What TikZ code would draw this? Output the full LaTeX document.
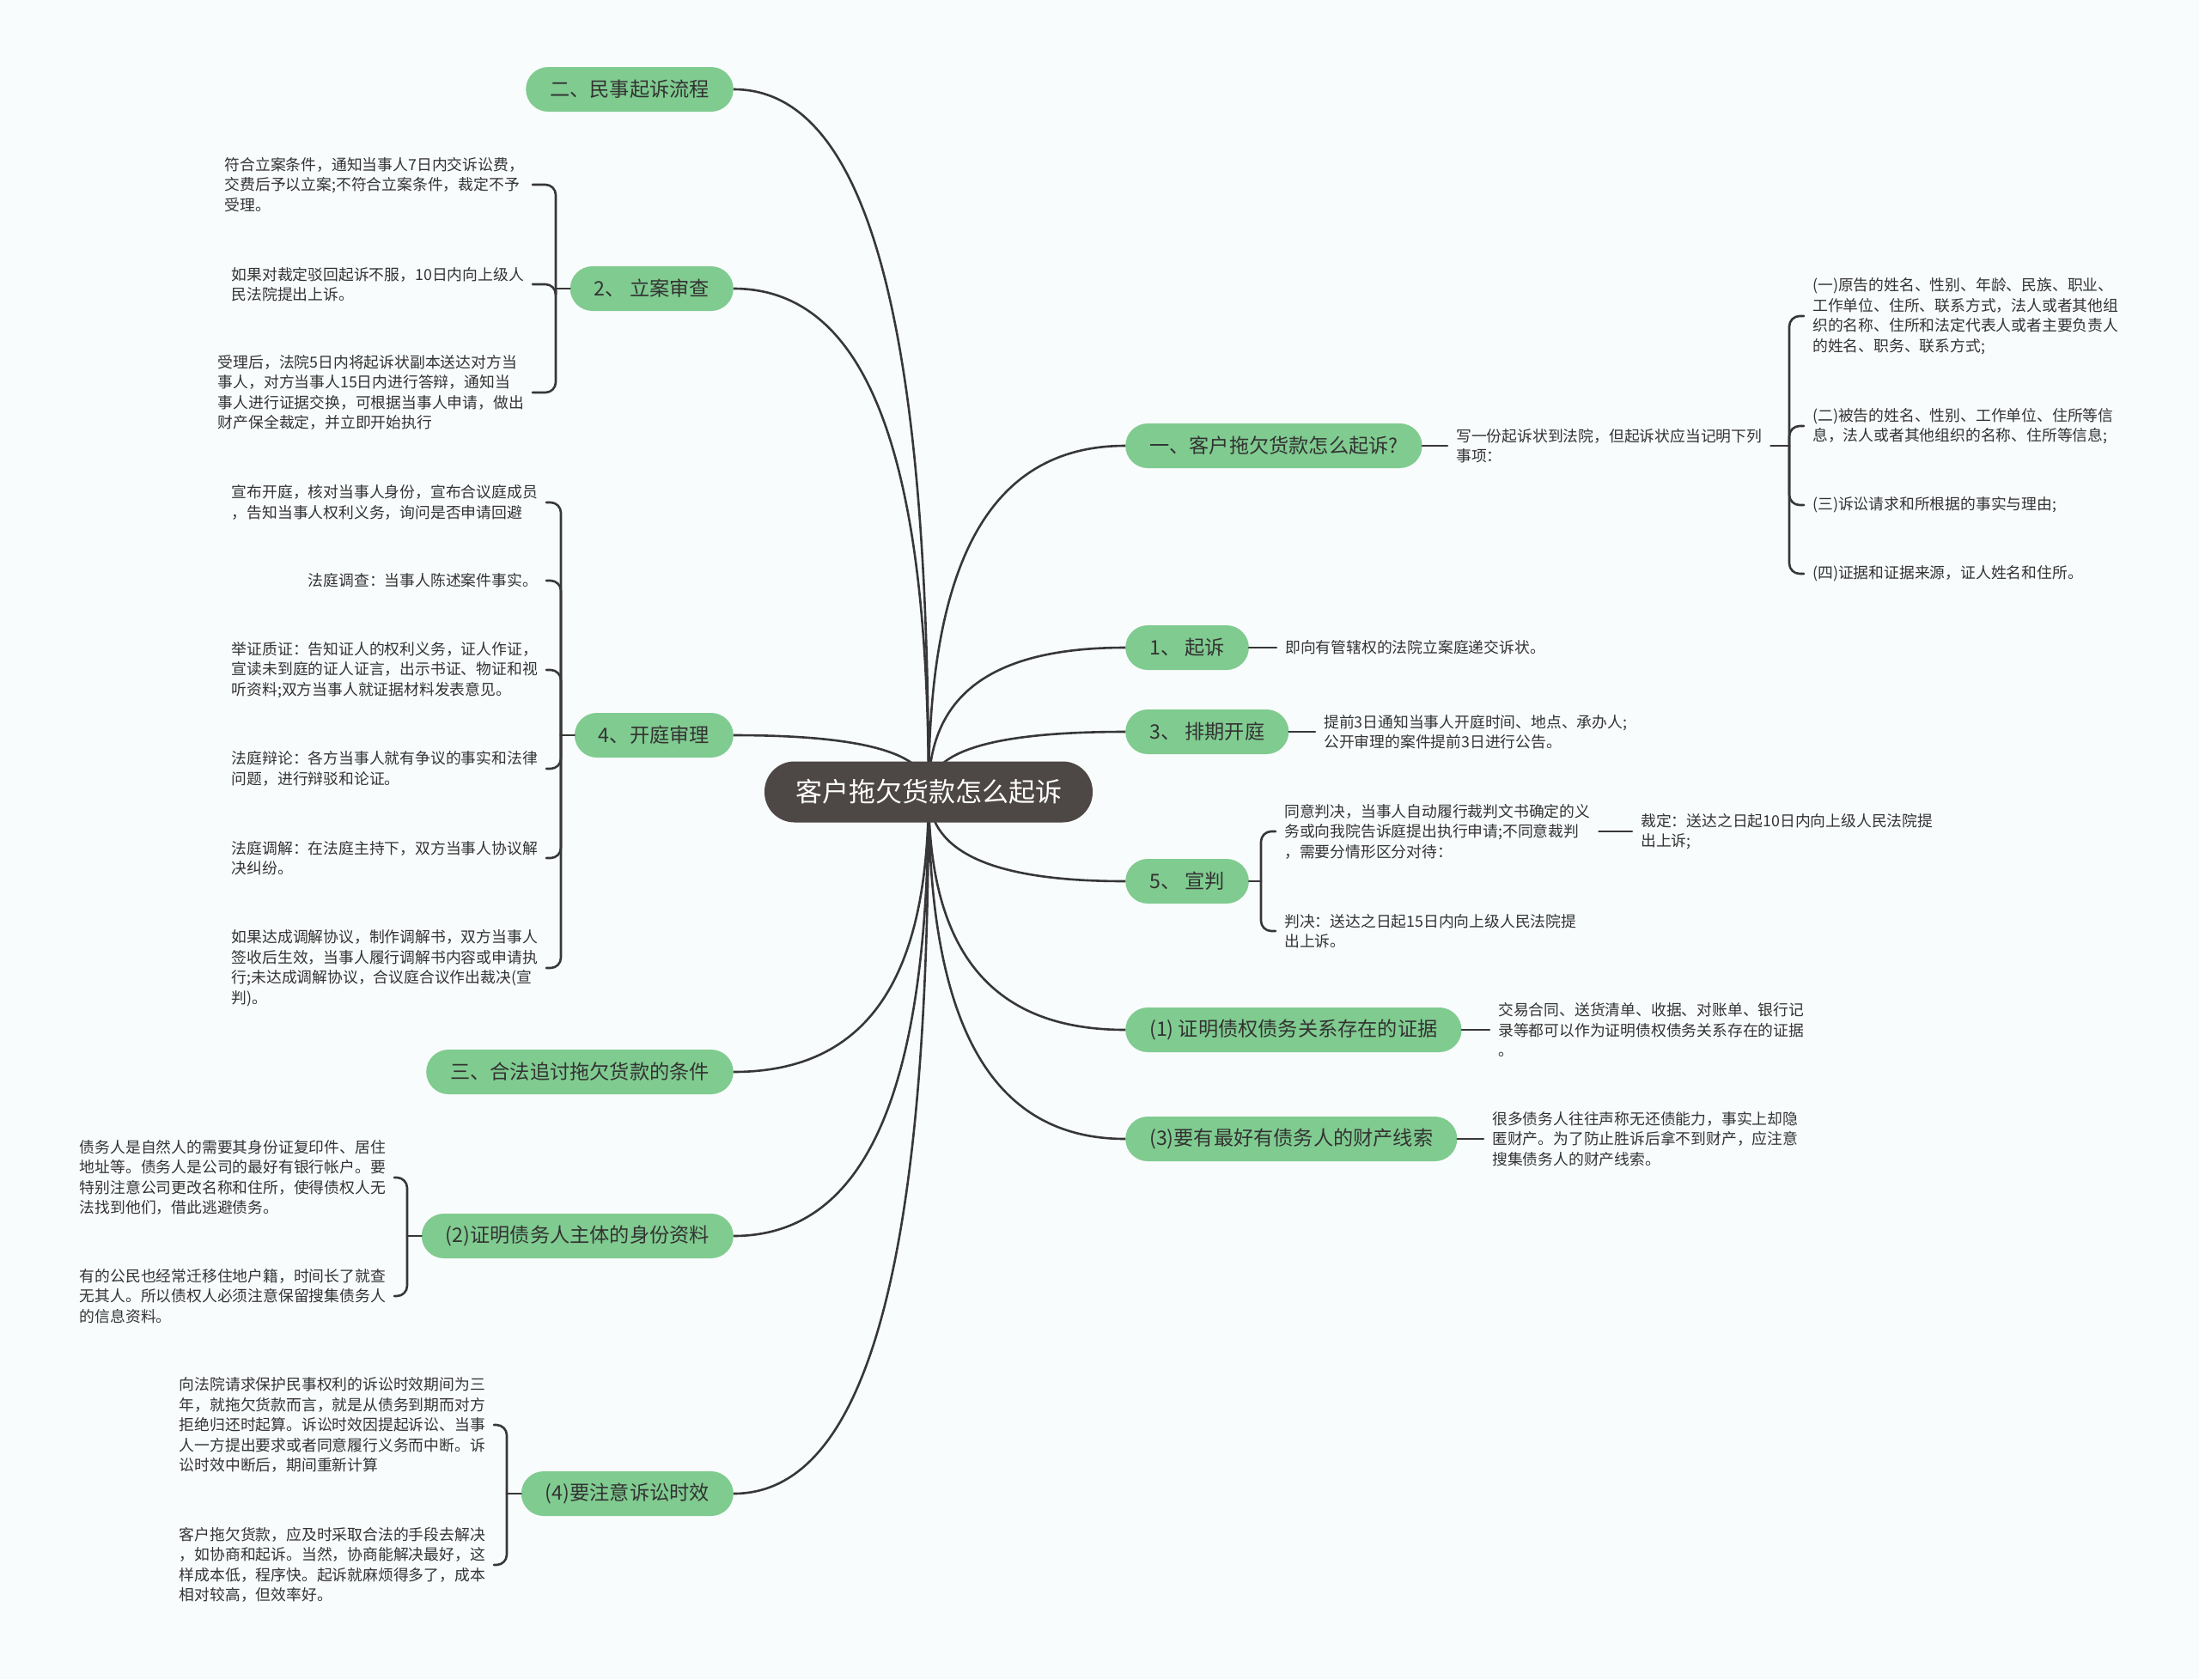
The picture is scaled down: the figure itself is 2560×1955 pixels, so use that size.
\documentclass[tikz,border=0pt]{standalone}
\usepackage{fontspec}
\setmainfont{Noto Sans CJK SC}
\usetikzlibrary{backgrounds,calc}
\definecolor{paper}{RGB}{249,252,253}
\definecolor{topicfill}{RGB}{128,203,144}
\definecolor{hubfill}{RGB}{77,71,69}
\definecolor{wirecol}{RGB}{55,55,55}
\definecolor{inkcol}{RGB}{51,51,51}

\begin{document}
\begin{tikzpicture}[x=1pt, y=-1pt,
    wire/.style={line width=2.6pt, draw=wirecol, line cap=round},
    fork/.style={wire, rounded corners=12pt}, % chave dos filhos
    branch/.style={to path={.. controls ($(\tikztostart)!0.6!(\tikztostart|-\tikztotarget)$)
        and ($(\tikztotarget)!0.75!(\tikztostart|-\tikztotarget)$) .. (\tikztotarget)}},
    hub/.style={fill=hubfill, text=white, rounded corners=35pt, minimum height=71pt,
      inner xsep=36pt, inner ysep=0pt, font=\fontsize{31pt}{36pt}\selectfont},
    topic/.style={fill=topicfill, text=inkcol, rounded corners=26pt, minimum height=52pt,
      inner xsep=28pt, inner ysep=0pt, font=\fontsize{23.2pt}{27pt}\selectfont},
    note/.style={text=inkcol, align=left, inner xsep=10pt, inner ysep=0pt,
      font=\fontsize{17.8pt}{23.5pt}\selectfont}]
  \useasboundingbox (0,0) rectangle (2560,1955);
  \begin{scope}[on background layer]
    \fill[paper] (0,0) rectangle (2560,1955);
  \end{scope}

  % centro
  \node[hub] (main) at (1081,922) {客户拖欠货款怎么起诉};

  % ramos da esquerda
  \node[topic, anchor=east] (l1) at (854,104) {二、民事起诉流程};
  \node[topic, anchor=east] (l2) at (854,336) {2、 立案审查};
  \node[topic, anchor=east] (l3) at (854,856) {4、开庭审理};
  \node[topic, anchor=east] (l4) at (854,1248) {三、合法追讨拖欠货款的条件};
  \node[topic, anchor=east] (l5) at (854,1439) {(2)证明债务人主体的身份资料};
  \node[topic, anchor=east] (l6) at (854,1739) {(4)要注意诉讼时效};

  % ramos da direita
  \node[topic, anchor=west] (r1) at (1310,519) {一、客户拖欠货款怎么起诉?};
  \node[topic, anchor=west] (r2) at (1310,754) {1、 起诉};
  \node[topic, anchor=west] (r3) at (1310,852) {3、 排期开庭};
  \node[topic, anchor=west] (r4) at (1310,1026) {5、 宣判};
  \node[topic, anchor=west] (r5) at (1310,1199) {(1) 证明债权债务关系存在的证据};
  \node[topic, anchor=west] (r6) at (1310,1326) {(3)要有最好有债务人的财产线索};

  % pontos das chaves
  \coordinate (a0) at (647,336);
  \coordinate (b0) at (653,856);
  \coordinate (c0) at (474,1439);
  \coordinate (d0) at (590,1739);
  \coordinate (p0) at (2083,519);
  \coordinate (s0) at (1468,1026);

  % notas de 2、立案审查
  \node[note, anchor=east] (a1) at (620,215) {符合立案条件，通知当事人7日内交诉讼费，\\交费后予以立案;不符合立案条件，裁定不予\\受理。};
  \node[note, anchor=east] (a2) at (620,331) {如果对裁定驳回起诉不服，10日内向上级人\\民法院提出上诉。};
  \node[note, anchor=east] (a3) at (620,457) {受理后，法院5日内将起诉状副本送达对方当\\事人，对方当事人15日内进行答辩，通知当\\事人进行证据交换，可根据当事人申请，做出\\财产保全裁定，并立即开始执行};

  % notas de 4、开庭审理
  \node[note, anchor=east] (b1) at (636,585) {宣布开庭，核对当事人身份，宣布合议庭成员\\，告知当事人权利义务，询问是否申请回避};
  \node[note, anchor=east] (b2) at (636,676) {法庭调查：当事人陈述案件事实。};
  \node[note, anchor=east] (b3) at (636,780) {举证质证：告知证人的权利义务，证人作证，\\宣读未到庭的证人证言，出示书证、物证和视\\听资料;双方当事人就证据材料发表意见。};
  \node[note, anchor=east] (b4) at (636,895) {法庭辩论：各方当事人就有争议的事实和法律\\问题，进行辩驳和论证。};
  \node[note, anchor=east] (b5) at (636,999) {法庭调解：在法庭主持下，双方当事人协议解\\决纠纷。};
  \node[note, anchor=east] (b6) at (636,1127) {如果达成调解协议，制作调解书，双方当事人\\签收后生效，当事人履行调解书内容或申请执\\行;未达成调解协议，合议庭合议作出裁决(宣\\判)。};

  % notas de (2)
  \node[note, anchor=east] (c1) at (459,1371) {债务人是自然人的需要其身份证复印件、居住\\地址等。债务人是公司的最好有银行帐户。要\\特别注意公司更改名称和住所，使得债权人无\\法找到他们，借此逃避债务。};
  \node[note, anchor=east] (c2) at (459,1509) {有的公民也经常迁移住地户籍，时间长了就查\\无其人。所以债权人必须注意保留搜集债务人\\的信息资料。};

  % notas de (4)
  \node[note, anchor=east] (d1) at (575,1659) {向法院请求保护民事权利的诉讼时效期间为三\\年，就拖欠货款而言，就是从债务到期而对方\\拒绝归还时起算。诉讼时效因提起诉讼、当事\\人一方提出要求或者同意履行义务而中断。诉\\讼时效中断后，期间重新计算};
  \node[note, anchor=east] (d2) at (575,1822) {客户拖欠货款，应及时采取合法的手段去解决\\，如协商和起诉。当然，协商能解决最好，这\\样成本低，程序快。起诉就麻烦得多了，成本\\相对较高，但效率好。};

  % notas da direita
  \node[note, anchor=west] (p) at (1685,519) {写一份起诉状到法院，但起诉状应当记明下列\\事项：};
  \node[note, anchor=west] (p1) at (2100,368) {(一)原告的姓名、性别、年龄、民族、职业、\\工作单位、住所、联系方式，法人或者其他组\\织的名称、住所和法定代表人或者主要负责人\\的姓名、职务、联系方式;};
  \node[note, anchor=west] (p2) at (2100,496) {(二)被告的姓名、性别、工作单位、住所等信\\息，法人或者其他组织的名称、住所等信息;};
  \node[note, anchor=west] (p3) at (2100,588) {(三)诉讼请求和所根据的事实与理由;};
  \node[note, anchor=west] (p4) at (2100,668) {(四)证据和证据来源，证人姓名和住所。};
  \node[note, anchor=west] (q2) at (1486,754) {即向有管辖权的法院立案庭递交诉状。};
  \node[note, anchor=west] (q3) at (1531,852) {提前3日通知当事人开庭时间、地点、承办人;\\公开审理的案件提前3日进行公告。};
  \node[note, anchor=west] (s1) at (1485,968) {同意判决，当事人自动履行裁判文书确定的义\\务或向我院告诉庭提出执行申请;不同意裁判\\，需要分情形区分对待：};
  \node[note, anchor=west] (s2) at (1485,1084) {判决：送达之日起15日内向上级人民法院提\\出上诉。};
  \node[note, anchor=west] (s3) at (1900,968) {裁定：送达之日起10日内向上级人民法院提\\出上诉;};
  \node[note, anchor=west] (q5) at (1734,1199) {交易合同、送货清单、收据、对账单、银行记\\录等都可以作为证明债权债务关系存在的证据\\。};
  \node[note, anchor=west] (q6) at (1727,1326) {很多债务人往往声称无还债能力，事实上却隐\\匿财产。为了防止胜诉后拿不到财产，应注意\\搜集债务人的财产线索。};

  % curvas do centro, atras dos nos
  \begin{scope}[on background layer]
    \draw[wire] (main.center) to[branch] (l1.east);
    \draw[wire] (main.center) to[branch] (l2.east);
    \draw[wire] (main.center) to[branch] (l3.east);
    \draw[wire] (main.center) to[branch] (l4.east);
    \draw[wire] (main.center) to[branch] (l5.east);
    \draw[wire] (main.center) to[branch] (l6.east);
    \draw[wire] (main.center) to[branch] (r1.west);
    \draw[wire] (main.center) to[branch] (r2.west);
    \draw[wire] (main.center) to[branch] (r3.west);
    \draw[wire] (main.center) to[branch] (r4.west);
    \draw[wire] (main.center) to[branch] (r5.west);
    \draw[wire] (main.center) to[branch] (r6.west);
  \end{scope}

  % chaves
  \draw[wire] (l2.west) -- (a0);
  \draw[fork] (a0) |- (a1.east);
  \draw[fork] (a0) |- (a2.east);
  \draw[fork] (a0) |- (a3.east);

  \draw[wire] (l3.west) -- (b0);
  \draw[fork] (b0) |- (b1.east);
  \draw[fork] (b0) |- (b2.east);
  \draw[fork] (b0) |- (b3.east);
  \draw[fork] (b0) |- (b4.east);
  \draw[fork] (b0) |- (b5.east);
  \draw[fork] (b0) |- (b6.east);

  \draw[wire] (l5.west) -- (c0);
  \draw[fork] (c0) |- (c1.east);
  \draw[fork] (c0) |- (c2.east);

  \draw[wire] (l6.west) -- (d0);
  \draw[fork] (d0) |- (d1.east);
  \draw[fork] (d0) |- (d2.east);

  \draw[wire] (r1.east) -- (p.west);
  \draw[wire] (p.east) -- (p0);
  \draw[fork] (p0) |- (p1.west);
  \draw[fork] (p0) |- (p2.west);
  \draw[fork] (p0) |- (p3.west);
  \draw[fork] (p0) |- (p4.west);

  \draw[wire] (r2.east) -- (q2.west);
  \draw[wire] (r3.east) -- (q3.west);

  \draw[wire] (r4.east) -- (s0);
  \draw[fork] (s0) |- (s1.west);
  \draw[fork] (s0) |- (s2.west);
  \draw[wire] (s1.east) -- (s3.west);

  \draw[wire] (r5.east) -- (q5.west);
  \draw[wire] (r6.east) -- (q6.west);
\end{tikzpicture}
\end{document}
